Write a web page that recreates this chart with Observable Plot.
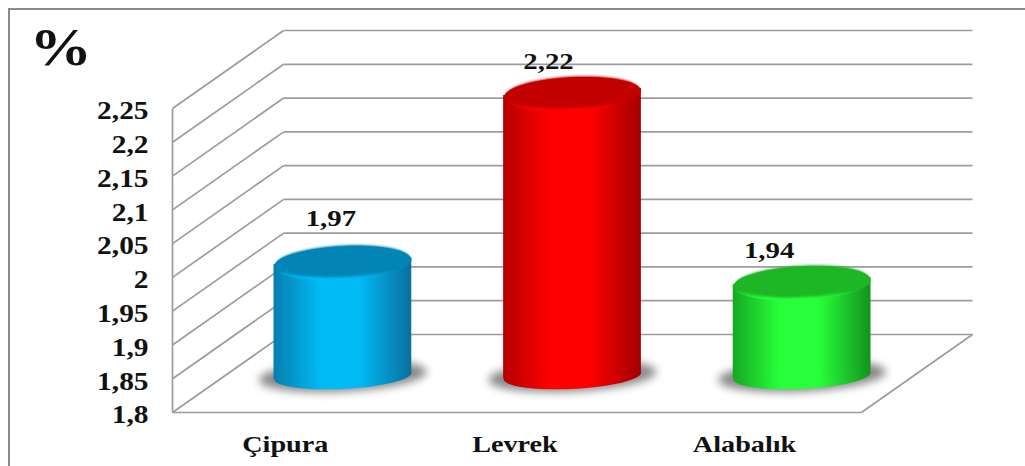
<!DOCTYPE html>
<html>
<head>
<meta charset="utf-8">
<script src="https://cdn.jsdelivr.net/npm/d3@7"></script>
<script src="https://cdn.jsdelivr.net/npm/@observablehq/plot@0.6"></script>
<style>
  html, body { margin: 0; padding: 0; background: #fff; overflow: hidden; }
  #chart { position: relative; width: 1025px; height: 466px; }
  #chart svg { position: absolute; left: 0; top: 0; background: transparent; }
  #chart svg text { font-family: "Liberation Serif", serif; font-weight: bold; fill: #111; }
  #edge { position: absolute; left: 8px; top: 8px; right: 0; bottom: 0;
          border-left: 2px solid #8c8c8c; border-top: 2px solid #8c8c8c; }
</style>
</head>
<body>
<div id="chart"><div id="edge"></div></div>
<script>
// Fat content by fish species
const species = ["Çipura", "Levrek", "Alabalık"];
const fatPercent = [1.97, 2.22, 1.94];
const yTicks = [1.8, 1.85, 1.9, 1.95, 2, 2.05, 2.1, 2.15, 2.2, 2.25];
const unitLabel = "%";

// Colours of each cylinder: shaded edge, lit centre, top cap
const edgeColors = ["#0a6f9e", "#a30000", "#12921f"];
const litColors = ["#00baf6", "#ff0000", "#28ff3a"];
const capColors = ["#0285b4", "#c30000", "#1fb626"];

// Oblique projection of the box: how far the back wall is shifted, in data units
const depthX = 0.484;
const depthY = 0.1155;
const barShiftX = 0.5 * depthX;
const barShiftY = 0.0543;
const barHalf = 0.3;
const tilt = 0.0052;
const floorValue = yTicks[0];
const xEnd = 3;

const fmt = (d) => String(d).replace(".", ",");
const rows = species.map((name, i) => ({name, value: fatPercent[i], i, cx: i + 0.5 + barShiftX}));

// A flattened, slightly turned ellipse usable as a dot symbol
const ellipse = (ratio, angle = -0.05) => ({
  draw(ctx, size) {
    const rx = Math.sqrt(size / Math.PI), ry = rx * ratio, k = 0.5523;
    const c = Math.cos(angle), s = Math.sin(angle);
    const p = (x, y) => [x * c - y * s, x * s + y * c];
    ctx.moveTo(...p(rx, 0));
    ctx.bezierCurveTo(...p(rx, k * ry), ...p(k * rx, ry), ...p(0, ry));
    ctx.bezierCurveTo(...p(-k * rx, ry), ...p(-rx, k * ry), ...p(-rx, 0));
    ctx.bezierCurveTo(...p(-rx, -k * ry), ...p(-k * rx, -ry), ...p(0, -ry));
    ctx.bezierCurveTo(...p(k * rx, -ry), ...p(rx, -k * ry), ...p(rx, 0));
    ctx.closePath();
  }
});

// Shading of the cylinder sides (across) and of the cap rim (downward)
const gradients = () => {
  const defs = d3.create("svg:defs");
  species.forEach((_, i) => {
    const side = defs.append("linearGradient").attr("id", `side${i}`).attr("x1", 0).attr("x2", 1).attr("y1", 0).attr("y2", 0);
    [[0, d3.interpolateRgb(edgeColors[i], litColors[i])(0.2)], [0.34, litColors[i]], [0.62, litColors[i]], [1, edgeColors[i]]].forEach(([o, col]) =>
      side.append("stop").attr("offset", o).attr("stop-color", col));
    const rim = defs.append("linearGradient").attr("id", `rim${i}`).attr("x1", 0).attr("x2", 0).attr("y1", 0).attr("y2", 1);
    [[0, capColors[i]], [0.7, capColors[i]], [0.95, litColors[i]], [1, litColors[i]]].forEach(([o, col]) =>
      rim.append("stop").attr("offset", o).attr("stop-color", col));
  });
  return defs.node();
};

const gridColor = "#9c9c9c";
const gridWidth = 1.7;
const labelNudges = [[-12, -43], [-24, -31], [-33, -31]];

const marks = [
  gradients,
  // Side wall, back wall and floor outline
  Plot.link(yTicks, {x1: 0, y1: (d) => d, x2: depthX, y2: (d) => d + depthY, stroke: gridColor, strokeWidth: gridWidth}),
  Plot.link(yTicks, {x1: depthX, y1: (d) => d + depthY, x2: xEnd + depthX, y2: (d) => d + depthY, stroke: gridColor, strokeWidth: gridWidth}),
  Plot.link([0], {x1: 0, y1: floorValue, x2: 0, y2: yTicks[yTicks.length - 1], stroke: gridColor, strokeWidth: gridWidth}),
  Plot.link([0], {x1: 0, y1: floorValue, x2: xEnd, y2: floorValue, stroke: gridColor, strokeWidth: gridWidth}),
  Plot.link([0], {x1: xEnd, y1: floorValue, x2: xEnd + depthX, y2: floorValue + depthY, stroke: gridColor, strokeWidth: gridWidth}),

  // Soft shadows on the floor
  Plot.dot(rows, {x: "cx", y: floorValue + barShiftY, r: 84, symbol: ellipse(0.19), fill: "#8a8a8a", imageFilter: "blur(4px)"}),

  // Cylinders: bottom curve, side, rim and cap
  ...rows.flatMap((d) => {
    const side = [
      {x: d.cx - barHalf, y1: floorValue + barShiftY - tilt, y2: d.value + barShiftY - tilt},
      {x: d.cx + barHalf, y1: floorValue + barShiftY + tilt, y2: d.value + barShiftY + tilt}
    ];
    return [
      Plot.dot([d], {x: "cx", y: floorValue + barShiftY, r: 68.8, symbol: ellipse(0.19), fill: `url(#side${d.i})`}),
      Plot.areaY(side, {x: "x", y1: "y1", y2: "y2", fill: `url(#side${d.i})`}),
      Plot.dot([d], {x: "cx", y: d.value + barShiftY, r: 68.8, dy: 2, symbol: ellipse(0.245), fill: `url(#rim${d.i})`}),
      Plot.dot([d], {x: "cx", y: d.value + barShiftY, r: 66.5, dy: 0, symbol: ellipse(0.235), fill: capColors[d.i], imageFilter: "blur(1px)"})
    ];
  }),

  // Value above each cylinder
  ...rows.map((d) => Plot.text([d], {
    x: "cx", y: d.value + barShiftY, text: (r) => fmt(r.value),
    dx: labelNudges[d.i][0], dy: labelNudges[d.i][1], fontSize: 24
  })),

  // Unit in the corner
  Plot.text([unitLabel], {text: (d) => d, frameAnchor: "top-left", dx: -143, dy: -2, textAnchor: "start", lineAnchor: "top", fontSize: 52}),

  Plot.axisY(yTicks, {anchor: "left", tickSize: 0, tickPadding: 24, dy: 3, tickFormat: fmt, fontSize: 24.5, label: null}),
  Plot.text(rows, {x: (d) => d.i + 0.5, y: floorValue, text: "name", dx: -2, dy: 32, fontSize: 23.5})
];

const chart = Plot.plot({
  width: 1025,
  height: 466,
  marginLeft: 172,
  marginRight: 53,
  marginTop: 30,
  marginBottom: 54,
  x: {domain: [0, xEnd + depthX], axis: null},
  y: {domain: [floorValue, yTicks[yTicks.length - 1] + depthY], label: null},
  marks
});
document.getElementById("chart").appendChild(chart);

// The lettering is set wide: stretch each label's glyphs horizontally
chart.querySelectorAll("text").forEach((t) => {
  t.setAttribute("lengthAdjust", "spacingAndGlyphs");
  t.setAttribute("textLength", (t.getComputedTextLength() * 1.2).toFixed(1));
});
</script>
</body>
</html>
